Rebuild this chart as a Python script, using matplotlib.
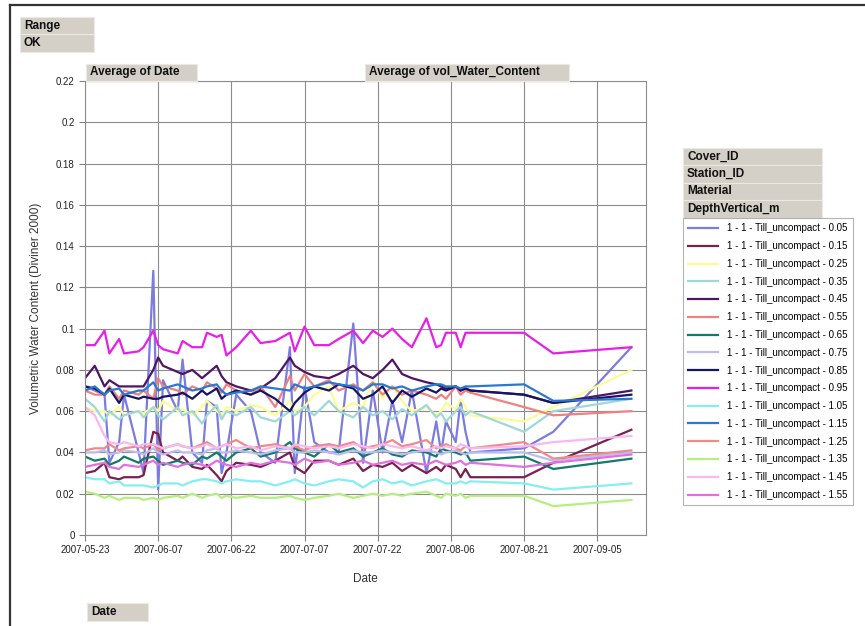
import numpy as np
import pandas as pd
import matplotlib
matplotlib.use("Agg")
import matplotlib.pyplot as plt
import matplotlib.dates as mdates
from matplotlib.patches import Rectangle
from matplotlib.lines import Line2D

plt.rcParams['font.family'] = ['Liberation Sans', 'DejaVu Sans']

# measurement dates
dates = ["2007-05-23", "2007-05-25", "2007-05-27", "2007-05-28", "2007-05-30", "2007-05-31",
         "2007-06-03", "2007-06-04", "2007-06-06", "2007-06-07", "2007-06-08", "2007-06-11",
         "2007-06-12", "2007-06-14", "2007-06-16", "2007-06-17", "2007-06-19", "2007-06-20",
         "2007-06-21", "2007-06-23", "2007-06-26", "2007-06-28", "2007-07-01", "2007-07-04",
         "2007-07-05", "2007-07-07", "2007-07-09", "2007-07-12", "2007-07-14", "2007-07-17",
         "2007-07-19", "2007-07-21", "2007-07-23", "2007-07-25", "2007-07-27", "2007-07-29",
         "2007-08-01", "2007-08-03", "2007-08-04", "2007-08-05", "2007-08-07", "2007-08-08",
         "2007-08-09", "2007-08-10", "2007-08-21", "2007-08-27", "2007-09-12"]

depths = ["0.05", "0.15", "0.25", "0.35", "0.45", "0.55", "0.65", "0.75",
          "0.85", "0.95", "1.05", "1.15", "1.25", "1.35", "1.45", "1.55"]

colors = ["#7b7be0", "#7a1f4f", "#fbfb98", "#a0d8d8", "#4e1466", "#ef8080", "#127a6a", "#bcbcf4",
          "#161660", "#e81ee8", "#84eef0", "#2a78d2", "#f08a8a", "#b6ee80", "#f8b8f0", "#e070e0"]

d005 = [0.072, 0.070, 0.068, 0.035, 0.045, 0.068, 0.040, 0.030, 0.128, 0.022, 0.075, 0.060,
        0.085, 0.040, 0.035, 0.065, 0.062, 0.030, 0.040, 0.068, 0.060, 0.040, 0.035, 0.091,
        0.030, 0.072, 0.045, 0.040, 0.040, 0.1025, 0.035, 0.070, 0.040, 0.065, 0.045, 0.070,
        0.030, 0.055, 0.040, 0.055, 0.045, 0.065, 0.050, 0.040, 0.042, 0.050, 0.091]
d015 = [0.030, 0.031, 0.035, 0.028, 0.027, 0.028, 0.028, 0.029, 0.050, 0.049, 0.040, 0.036,
        0.038, 0.033, 0.032, 0.034, 0.029, 0.026, 0.031, 0.035, 0.034, 0.033, 0.036, 0.040,
        0.033, 0.030, 0.036, 0.036, 0.034, 0.037, 0.031, 0.034, 0.033, 0.035, 0.031, 0.034,
        0.030, 0.033, 0.031, 0.034, 0.032, 0.028, 0.032, 0.028, 0.028, 0.035, 0.051]
d025 = [0.062, 0.060, 0.060, 0.058, 0.062, 0.058, 0.060, 0.059, 0.062, 0.060, 0.065, 0.060,
        0.061, 0.058, 0.062, 0.065, 0.060, 0.058, 0.062, 0.060, 0.063, 0.062, 0.058, 0.065,
        0.060, 0.062, 0.068, 0.072, 0.060, 0.064, 0.062, 0.075, 0.066, 0.072, 0.065, 0.060,
        0.062, 0.058, 0.060, 0.064, 0.061, 0.066, 0.062, 0.058, 0.055, 0.062, 0.080]
d035 = [0.066, 0.062, 0.055, 0.060, 0.056, 0.058, 0.060, 0.057, 0.062, 0.058, 0.056, 0.062,
        0.058, 0.060, 0.054, 0.058, 0.063, 0.056, 0.060, 0.058, 0.062, 0.057, 0.055, 0.060,
        0.058, 0.062, 0.058, 0.065, 0.060, 0.057, 0.062, 0.058, 0.060, 0.056, 0.061, 0.058,
        0.063, 0.057, 0.059, 0.055, 0.060, 0.062, 0.058, 0.060, 0.050, 0.060, 0.066]
d045 = [0.076, 0.082, 0.072, 0.075, 0.072, 0.072, 0.072, 0.072, 0.080, 0.086, 0.082, 0.079,
        0.078, 0.080, 0.076, 0.078, 0.082, 0.077, 0.074, 0.072, 0.070, 0.071, 0.076, 0.086,
        0.082, 0.079, 0.077, 0.076, 0.078, 0.082, 0.078, 0.076, 0.080, 0.085, 0.078, 0.076,
        0.074, 0.073, 0.072, 0.071, 0.072, 0.070, 0.071, 0.070, 0.068, 0.064, 0.070]
d055 = [0.070, 0.068, 0.068, 0.072, 0.066, 0.070, 0.068, 0.070, 0.066, 0.076, 0.072, 0.070,
        0.068, 0.072, 0.070, 0.074, 0.071, 0.069, 0.073, 0.070, 0.068, 0.072, 0.062, 0.077,
        0.070, 0.078, 0.072, 0.075, 0.070, 0.073, 0.070, 0.074, 0.068, 0.072, 0.068, 0.070,
        0.068, 0.066, 0.068, 0.066, 0.072, 0.068, 0.070, 0.069, 0.062, 0.058, 0.060]
d065 = [0.038, 0.036, 0.037, 0.034, 0.036, 0.038, 0.035, 0.037, 0.038, 0.036, 0.034, 0.036,
        0.035, 0.034, 0.038, 0.037, 0.040, 0.038, 0.036, 0.040, 0.042, 0.038, 0.040, 0.045,
        0.042, 0.040, 0.038, 0.044, 0.040, 0.042, 0.038, 0.040, 0.042, 0.039, 0.038, 0.041,
        0.040, 0.038, 0.042, 0.041, 0.040, 0.039, 0.040, 0.036, 0.038, 0.032, 0.037]
d075 = [0.040, 0.040, 0.041, 0.039, 0.040, 0.041, 0.040, 0.039, 0.042, 0.040, 0.039, 0.041,
        0.040, 0.040, 0.039, 0.041, 0.042, 0.040, 0.040, 0.041, 0.040, 0.039, 0.041, 0.042,
        0.040, 0.040, 0.041, 0.040, 0.039, 0.041, 0.040, 0.040, 0.041, 0.040, 0.039, 0.040,
        0.041, 0.040, 0.039, 0.040, 0.041, 0.040, 0.039, 0.040, 0.040, 0.036, 0.040]
d085 = [0.072, 0.071, 0.068, 0.071, 0.064, 0.068, 0.066, 0.067, 0.066, 0.066, 0.067, 0.068,
        0.069, 0.066, 0.070, 0.068, 0.071, 0.066, 0.068, 0.070, 0.068, 0.070, 0.066, 0.060,
        0.064, 0.069, 0.072, 0.070, 0.073, 0.071, 0.066, 0.068, 0.072, 0.064, 0.070, 0.067,
        0.071, 0.069, 0.071, 0.070, 0.072, 0.070, 0.071, 0.070, 0.068, 0.064, 0.068]
d095 = [0.092, 0.092, 0.099, 0.088, 0.095, 0.088, 0.089, 0.091, 0.099, 0.092, 0.090, 0.088,
        0.094, 0.091, 0.091, 0.098, 0.096, 0.097, 0.087, 0.091, 0.099, 0.093, 0.094, 0.098,
        0.089, 0.101, 0.092, 0.092, 0.095, 0.099, 0.093, 0.099, 0.096, 0.100, 0.095, 0.091,
        0.105, 0.091, 0.092, 0.098, 0.098, 0.091, 0.098, 0.098, 0.098, 0.088, 0.091]
d105 = [0.028, 0.027, 0.027, 0.025, 0.026, 0.024, 0.024, 0.024, 0.023, 0.024, 0.025, 0.025,
        0.024, 0.026, 0.027, 0.027, 0.026, 0.025, 0.026, 0.027, 0.026, 0.026, 0.024, 0.026,
        0.027, 0.025, 0.024, 0.026, 0.027, 0.026, 0.023, 0.026, 0.027, 0.025, 0.026, 0.024,
        0.026, 0.027, 0.026, 0.025, 0.025, 0.026, 0.025, 0.026, 0.025, 0.022, 0.025]
d115 = [0.070, 0.072, 0.068, 0.070, 0.071, 0.068, 0.070, 0.070, 0.074, 0.070, 0.071, 0.073,
        0.072, 0.070, 0.071, 0.072, 0.073, 0.070, 0.068, 0.069, 0.070, 0.072, 0.071, 0.070,
        0.073, 0.071, 0.072, 0.074, 0.073, 0.072, 0.070, 0.073, 0.073, 0.071, 0.072, 0.070,
        0.072, 0.073, 0.073, 0.072, 0.072, 0.071, 0.072, 0.072, 0.073, 0.065, 0.066]
d125 = [0.041, 0.042, 0.042, 0.044, 0.041, 0.042, 0.043, 0.042, 0.044, 0.041, 0.042, 0.044,
        0.043, 0.042, 0.044, 0.045, 0.042, 0.043, 0.044, 0.046, 0.042, 0.043, 0.044, 0.042,
        0.043, 0.041, 0.043, 0.044, 0.043, 0.045, 0.042, 0.043, 0.044, 0.046, 0.043, 0.044,
        0.046, 0.042, 0.043, 0.044, 0.042, 0.041, 0.043, 0.042, 0.045, 0.037, 0.041]
d135 = [0.021, 0.020, 0.018, 0.019, 0.017, 0.018, 0.018, 0.017, 0.018, 0.017, 0.018, 0.019,
        0.018, 0.020, 0.018, 0.019, 0.020, 0.018, 0.019, 0.018, 0.019, 0.018, 0.018, 0.019,
        0.018, 0.017, 0.018, 0.019, 0.020, 0.018, 0.019, 0.020, 0.019, 0.020, 0.019, 0.020,
        0.021, 0.019, 0.018, 0.020, 0.019, 0.020, 0.018, 0.019, 0.019, 0.014, 0.017]
d145 = [0.062, 0.058, 0.048, 0.045, 0.044, 0.045, 0.043, 0.044, 0.044, 0.043, 0.042, 0.044,
        0.043, 0.042, 0.043, 0.044, 0.042, 0.043, 0.044, 0.042, 0.043, 0.041, 0.043, 0.042,
        0.044, 0.043, 0.042, 0.043, 0.042, 0.044, 0.043, 0.042, 0.044, 0.043, 0.042, 0.043,
        0.041, 0.043, 0.042, 0.043, 0.042, 0.044, 0.043, 0.042, 0.043, 0.045, 0.048]
d155 = [0.033, 0.034, 0.035, 0.033, 0.032, 0.034, 0.033, 0.034, 0.036, 0.034, 0.035, 0.033,
        0.034, 0.035, 0.034, 0.033, 0.036, 0.035, 0.034, 0.033, 0.035, 0.034, 0.036, 0.035,
        0.034, 0.037, 0.035, 0.036, 0.034, 0.035, 0.036, 0.034, 0.035, 0.036, 0.034, 0.035,
        0.034, 0.036, 0.035, 0.034, 0.035, 0.036, 0.034, 0.035, 0.033, 0.035, 0.039]

series = [d005, d015, d025, d035, d045, d055, d065, d075,
          d085, d095, d105, d115, d125, d135, d145, d155]

W, H = 865, 626
fig = plt.figure(figsize=(W / 100, H / 100), dpi=100)


def px(x, y):
    # pixel (from top-left) to figure fraction
    return x / W, 1 - y / H


def button(x0, y0, x1, y1, label):
    fx, fy = px(x0, y1)
    fig.add_artist(Rectangle((fx, fy), (x1 - x0) / W, (y1 - y0) / H, transform=fig.transFigure,
                             facecolor="#d4d0c8", edgecolor="#ece9e2", lw=0.8))
    tx, ty = px(x0 + 4, (y0 + y1) / 2)
    fig.text(tx, ty, label, fontsize=8.5, fontweight="bold", ha="left", va="center", color="#111111")


# outer frame
fig.add_artist(Line2D([10 / W, 10 / W], [0, 1 - 5 / H], transform=fig.transFigure, color="#333333", lw=1.6))
fig.add_artist(Line2D([10 / W, 1], [1 - 5 / H, 1 - 5 / H], transform=fig.transFigure, color="#333333", lw=1.6))

ax = fig.add_axes([85 / W, 1 - 535 / H, (646 - 85) / W, (535 - 81) / H])

x = pd.to_datetime(dates)
handles = []
for vals, col, dep in zip(series, colors, depths):
    h, = ax.plot(x, vals, color=col, lw=1.6, label="1 - 1 - Till_uncompact - " + dep)
    handles.append(h)

ax.set_ylim(0, 0.22)
ax.set_xlim(pd.Timestamp("2007-05-23"), pd.Timestamp("2007-09-15"))
yt = np.arange(0, 0.2201, 0.02)
ax.set_yticks(yt)
ax.set_yticklabels([f"{v:g}" for v in np.round(yt, 2)])
xt = pd.date_range("2007-05-23", "2007-09-05", freq="15D")
ax.set_xticks(xt)
ax.xaxis.set_major_formatter(mdates.DateFormatter("%Y-%m-%d"))
ax.tick_params(labelsize=7, color="#808080", length=4, width=0.8, labelcolor="#222222")
ax.grid(True, color="#8c8c8c", lw=0.8)
for s in ax.spines.values():
    s.set_color("#8c8c8c")
ax.set_ylabel("Volumetric Water Content (Diviner 2000)", fontsize=8.5, color="#333333", labelpad=10)
ax.set_xlabel("Date", fontsize=8.5, color="#333333", labelpad=13)

# legend
leg = fig.legend(handles=handles, loc="upper left", bbox_to_anchor=px(683, 218),
                 fontsize=7, frameon=True, fancybox=False, edgecolor="#a0a0a0",
                 handlelength=3.0, handletextpad=1.0, labelspacing=0.8, borderpad=0.55,
                 borderaxespad=0)
leg.get_frame().set_linewidth(0.8)

# pivot field buttons
button(20, 17, 94, 34, "Range")
button(20, 34, 94, 52, "OK")
button(86, 64, 197, 81, "Average of Date")
button(365, 64, 569, 81, "Average of vol_Water_Content")
button(683, 148, 822, 165, "Cover_ID")
button(683, 165, 822, 183, "Station_ID")
button(683, 183, 822, 200, "Material")
button(683, 200, 822, 218, "DepthVertical_m")
button(87, 603, 148, 621, "Date")

fig.savefig("out.png", dpi=100)
